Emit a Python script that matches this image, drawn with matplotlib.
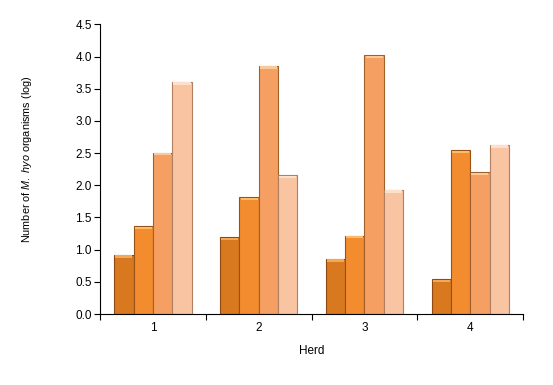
import matplotlib
matplotlib.use("Agg")
import matplotlib.pyplot as plt
import numpy as np

herds = ["1", "2", "3", "4"]
series1 = [0.92, 1.19, 0.86, 0.54]
series2 = [1.37, 1.82, 1.22, 2.55]
series3 = [2.51, 3.86, 4.02, 2.20]
series4 = [3.61, 2.16, 1.93, 2.63]
series = [series1, series2, series3, series4]
colors = ["#D8781F", "#F28C2E", "#F5A062", "#F8C4A2"]
edges = ["#8E4A12", "#9A5214", "#A0602A", "#B07E60"]
caps = ["#F2A858", "#F9BC6C", "#FBC898", "#FCE0CC"]
yticks = [0.0, 0.5, 1.0, 1.5, 2.0, 2.5, 3.0, 3.5, 4.0, 4.5]

plt.rcParams['font.family'] = ['Liberation Sans', 'DejaVu Sans']
plt.rcParams['mathtext.fontset'] = 'custom'
plt.rcParams['mathtext.rm'] = 'Liberation Sans'
plt.rcParams['mathtext.it'] = 'Liberation Sans:italic'

fig = plt.figure(figsize=(5.53, 3.85), dpi=100)
ax = fig.add_axes([0.181, 0.1844, 0.765, 0.7520])

x = np.arange(len(herds))
w = 0.183
for i, s in enumerate(series):
    pos = x + (i - 1.5) * w
    ax.bar(pos, s, width=w, color=colors[i], edgecolor=edges[i], linewidth=0.8, zorder=2)
    ax.bar(pos, [0.035] * len(s), width=w * 0.88, bottom=np.array(s) - 0.045,
           color=caps[i], edgecolor='none', zorder=3)

ax.set_xlim(-0.5, 3.5)
ax.set_ylim(0, 4.5)
ax.set_yticks(yticks)
ax.set_yticklabels([f"{v:.1f}" for v in yticks], fontsize=8.5)
ax.set_xticks(x)
ax.set_xticklabels(herds, fontsize=8.5)
ax.tick_params(axis='x', which='major', length=0, pad=6)
ax.set_xticks(np.arange(-0.5, 4.0, 1.0), minor=True)
ax.tick_params(axis='x', which='minor', length=4, direction='out', width=0.8)
ax.tick_params(axis='y', length=4, direction='out', width=0.8, pad=2)
for sp in ['top', 'right']:
    ax.spines[sp].set_visible(False)
for sp in ['left', 'bottom']:
    ax.spines[sp].set_linewidth(0.8)

ax.set_xlabel("Herd", fontsize=8.5, labelpad=8)
ax.set_ylabel(r"Number of $\mathit{M.\ hyo}$ organisms (log)", fontsize=7.8)
ax.yaxis.set_label_coords(-0.156, 0.535)

fig.savefig("out.png", dpi=100)
